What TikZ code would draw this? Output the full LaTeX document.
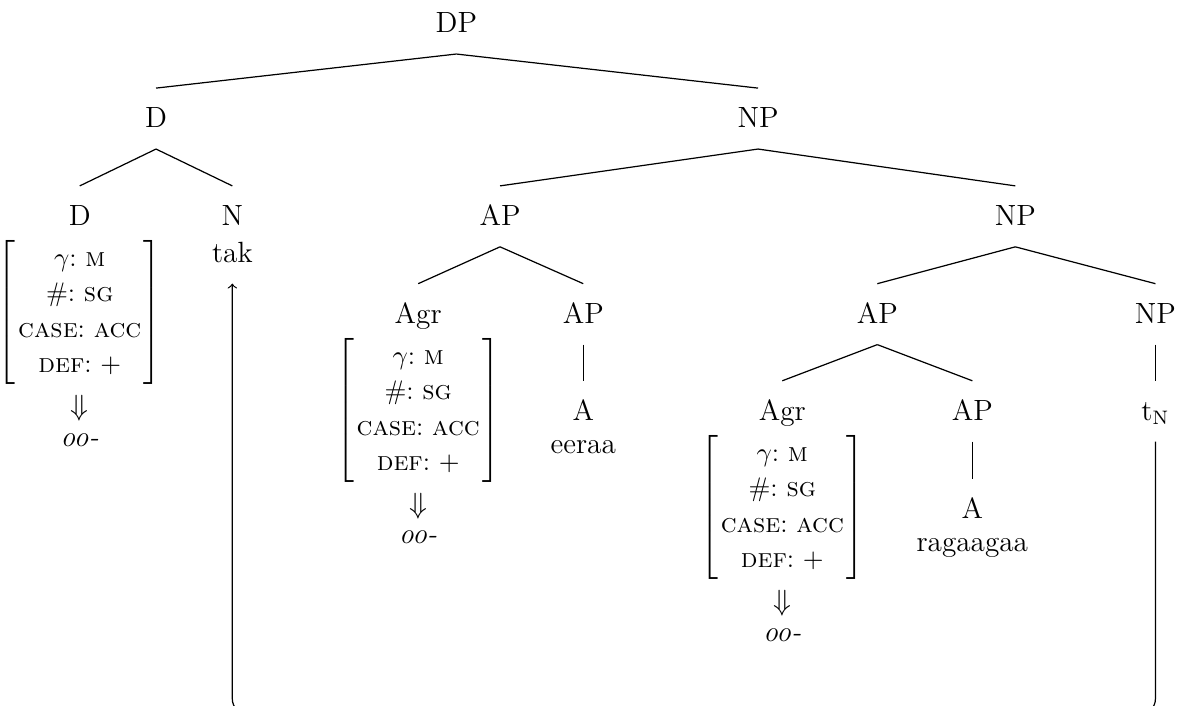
\documentclass[tikz,border=0pt,12pt]{standalone}
\usepackage{amsmath}
\usepackage{tikz}
\usetikzlibrary{positioning}

\newcommand{\featbox}{{\fontsize{11}{14.5}\selectfont\frenchspacing\renewcommand{\arraystretch}{1.0}$\left[\begin{tabular}{@{\hspace{1pt}}c@{\hspace{1pt}}}$\gamma$: \textsc{m}\\ \#: \textsc{sg}\\ \textsc{case}: \textsc{acc}\\ \textsc{def}: $+$\end{tabular}\right]$}}

\begin{document}
\begin{tikzpicture}

		\useasboundingbox (0,0) rectangle (17.0,10.17);
		\tikzset{cat/.style={anchor=base, text height=8.4pt, text depth=1pt, inner sep=7.6pt}}
		\tikzset{avm/.style={inner sep=0pt}}

		\node[cat](DP) at (6.58,9.70){DP};

		\node[cat](D1) at (2.25,8.33){D};
		\node[cat](NP1) at (10.93,8.33){NP};

		\node[cat](D2) at (1.15,6.92){D};
		\node[cat](N) at (3.35,6.92){N};
		\node[cat](tak) at (3.35,6.39){tak};
		\node[cat](AP1) at (7.21,6.92){AP};
		\node[cat](NP2) at (14.64,6.92){NP};

		\node[cat](Agr1) at (6.03,5.51){Agr};
		\node[cat](AP2) at (8.41,5.51){AP};
		\node[cat](AP3) at (12.65,5.51){AP};
		\node[cat](NP3) at (16.66,5.51){NP};

		\node[cat](A1) at (8.41,4.11){A};
		\node[cat](eeraa) at (8.41,3.63){eeraa};
		\node[cat](Agr2) at (11.28,4.11){Agr};
		\node[cat](AP4) at (14.02,4.11){AP};
		\node[cat](tN) at (16.66,4.11){t$_\mathrm{N}$};

		\node[cat](A2) at (14.02,2.70){A};
		\node[cat](ragaagaa) at (14.02,2.22){ragaagaa};

		% feature bundles
		\node[avm, below=6pt of D2.base](featD){\featbox};
		\node[avm, below=4pt of featD](impD){$\Downarrow$};
		\node[avm, below=4.5pt of impD](ooD){\textit{oo-}};

		\node[avm, below=6pt of Agr1.base](featA){\featbox};
		\node[avm, below=4pt of featA](impA){$\Downarrow$};
		\node[avm, below=4.5pt of impA](ooA){\textit{oo-}};

		\node[avm, below=6pt of Agr2.base](featB){\featbox};
		\node[avm, below=4pt of featB](impB){$\Downarrow$};
		\node[avm, below=4.5pt of impB](ooB){\textit{oo-}};

		\coordinate (mv) at (16.66,-0.12);

		\draw [line width=0.5pt] (DP.south) -- (D1.north);
		\draw [line width=0.5pt] (DP.south) -- (NP1.north);
		\draw [line width=0.5pt] (D1.south) -- (D2.north);
		\draw [line width=0.5pt] (D1.south) -- (N.north);
		\draw [line width=0.5pt] (NP1.south) -- (AP1.north);
		\draw [line width=0.5pt] (NP1.south) -- (NP2.north);
		\draw [line width=0.5pt] (AP1.south) -- (Agr1.north);
		\draw [line width=0.5pt] (AP1.south) -- (AP2.north);
		\draw [line width=0.5pt] (NP2.south) -- (AP3.north);
		\draw [line width=0.5pt] (NP2.south) -- (NP3.north);
		\draw [line width=0.5pt] (AP2.south) -- (A1.north);
		\draw [line width=0.5pt] (AP3.south) -- (Agr2.north);
		\draw [line width=0.5pt] (AP3.south) -- (AP4.north);
		\draw [line width=0.5pt] (NP3.south) -- (tN.north);
		\draw [line width=0.5pt] (AP4.south) -- (A2.north);

		% movement of N
		\draw [->, line width=0.5pt, rounded corners=6pt] (tN.south) -- (mv) -| (tak.south);

	\end{tikzpicture}
\end{document}
